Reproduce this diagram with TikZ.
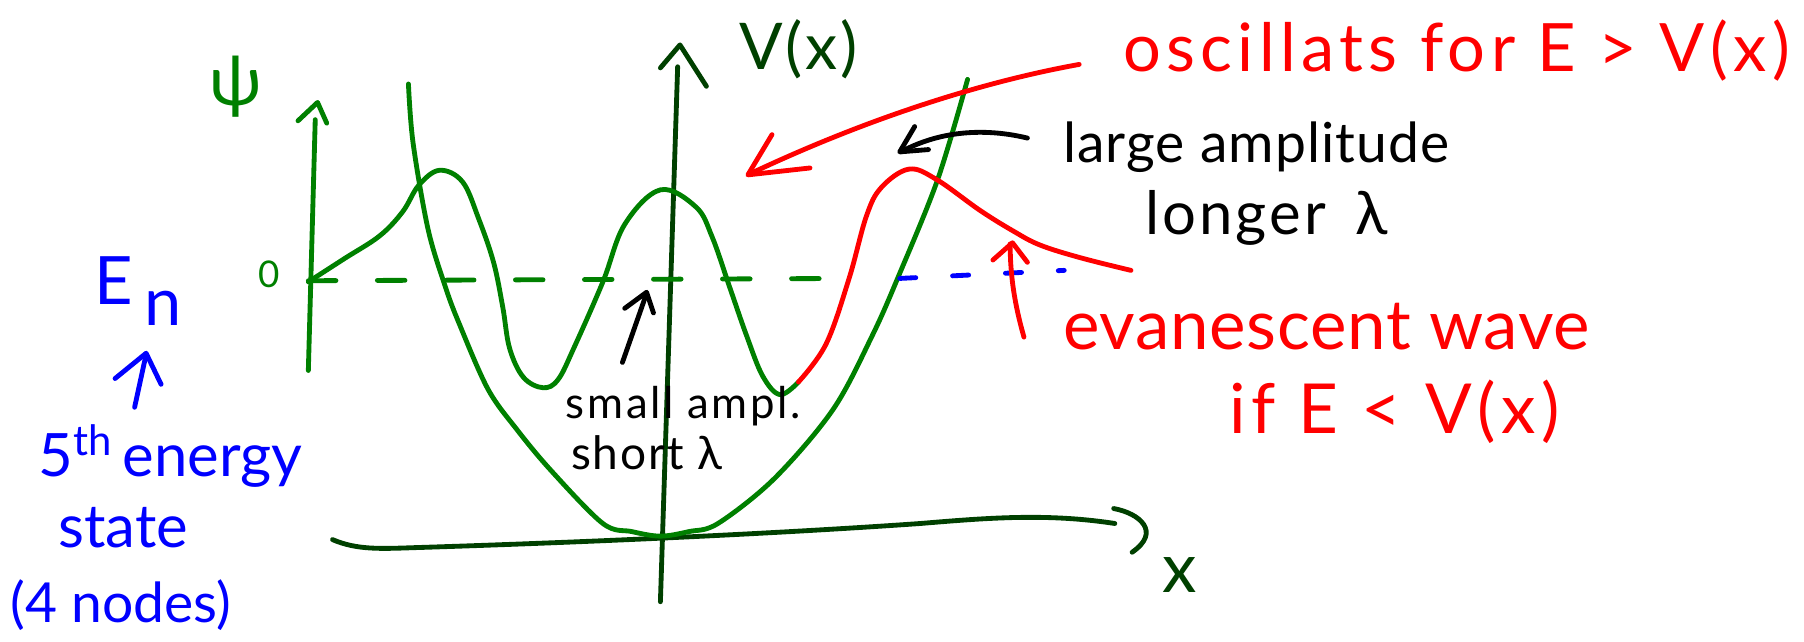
\documentclass[tikz,border=0pt]{standalone}
\usepackage{fontspec}
\setmainfont{Lato}
\usetikzlibrary{arrows.meta}
\definecolor{pgreen}{RGB}{0,128,0}
\definecolor{dgreen}{RGB}{0,64,0}
\newcommand{\fsz}[1]{\fontsize{#1}{#1}\selectfont}
\newcommand{\lsp}[1]{\addfontfeatures{LetterSpace=#1}}
\begin{document}
\begin{tikzpicture}[x=0.5pt,y=-0.5pt,
  pen/.style={line width=2.1pt,line cap=round,line join=round},
  lbl/.style={inner sep=0pt,anchor=base}]
\useasboundingbox (0,0) rectangle (1568,558);

% ---------- psi axis ----------
\coordinate (psib) at (268,322);
\coordinate (psit) at (274,104);
\draw[pen,pgreen] (psib) -- (psit);
\draw[pen,pgreen] (259,105) -- (276,89) -- (284,107);
\node[lbl,pgreen,font=\fsz{30}] (psi) at (205,92) {ψ};
\node[lbl,pgreen,font=\fsz{16}] (zero) at (234,250) {0};

% ---------- V axis ----------
\coordinate (vb) at (574,523);
\coordinate (vt) at (589,58);
\draw[pen,dgreen] (vb) -- (vt);
\draw[pen,dgreen] (574,59) -- (591,39) -- (614,75);
\node[lbl,dgreen,font={\fsz{28}\lsp{4}}] (vx) at (694,60) {V(x)};

% ---------- x axis ----------
\draw[pen,dgreen] (289,469) .. controls (310,478) and (330,477) .. (360,476)
  .. controls (550,470) and (700,462) .. (800,455)
  .. controls (860,450) and (910,446) .. (969,455);
\draw[pen,dgreen] (968,442) .. controls (990,446) and (1010,462) .. (984,480);
\node[lbl,dgreen,font=\fsz{30}] (xl) at (1025,515) {x};

% ---------- potential ----------
\draw[pen,pgreen] plot[smooth,tension=0.55] coordinates {
  (355,73) (359,124) (372,199) (387,249) (399,281) (424,338) (449,373)
  (479,409) (524,455) (549,462) (574,466) (599,462) (624,455) (673,416)
  (724,356) (758,292) (781,240) (815,156) (841,69)};

% ---------- zero line ----------
\draw[pen,pgreen,dash pattern=on 12pt off 18pt] (268,244) -- (740,242);
\draw[pen,blue,dash pattern=on 7pt off 16pt] (782,242) -- (925,235);

% ---------- wavefunction ----------
\draw[pen,pgreen] plot[smooth,tension=0.6] coordinates {
  (268,245) (299,225) (330,205) (350,184) (364,161) (382,148)
  (402,158) (416,190) (429,228) (437,267) (443,303) (455,328) (472,337)
  (485,330) (499,302) (524,245) (543,195) (574,165)
  (605,180) (619,206) (634,249) (649,292) (663,327) (678,343) (694,332)};
\draw[pen,red] plot[smooth,tension=0.6] coordinates {
  (694,332) (718,299) (738,242) (753,188) (766,163) (790,147) (814,156)
  (852,183) (881,201) (904,213) (939,224) (983,235)};

% ---------- red label: oscillates ----------
\node[lbl,red,font={\fsz{29}\lsp{8}}] (osc) at (1266,62) {oscillats for E > V(x)};
\coordinate (osctip) at (652,151);
\draw[pen,red] (938,56) .. controls (860,70) and (760,100) .. (osctip);
\draw[pen,red] (671,117) -- (650,152) -- (704,146);

% ---------- black label: large amplitude ----------
\node[lbl,font={\fsz{24}\lsp{2}}] (large) at (1092,141) {large amplitude};
\node[lbl,font={\fsz{26}\lsp{5}}] (longer) at (1101,204) {longer\hspace{0.5em}λ};
\coordinate (largetip) at (783,132);
\draw[pen] (893,120) .. controls (860,112) and (820,112) .. (largetip);
\draw[pen] (795,110) -- (782,132) -- (807,130);

% ---------- red label: evanescent ----------
\node[lbl,red,font={\fsz{30}\lsp{1}}] (evan) at (1153,304) {evanescent wave};
\node[lbl,red,font={\fsz{30}\lsp{8}}] (ifE) at (1212,377) {if E < V(x)};
\coordinate (evantip) at (878,212);
\draw[pen,red] (890,293) .. controls (882,265) and (878,240) .. (evantip);
\draw[pen,red] (863,226) -- (880,211) -- (893,228);

% ---------- black label: small amplitude ----------
\node[lbl,font={\fsz{19}\lsp{6}}] (small) at (594,364) {small ampl.};
\node[lbl,font={\fsz{20}\lsp{4}}] (short) at (562,408) {short λ};
\coordinate (smalltip) at (562,255);
\draw[pen] (541,315) -- (smalltip);
\draw[pen] (543,268) -- (562,254) -- (568,272);

% ---------- blue labels ----------
\node[lbl,blue,font=\fsz{29},anchor=base west] (En) at (82,265) {E\hspace{5pt}\raisebox{-9pt}{n}};
\coordinate (upb) at (117,354);
\coordinate (upt) at (127,308);
\draw[pen,blue] (upb) -- (upt);
\draw[pen,blue] (100,329) -- (127,307) -- (140,334);
\node[lbl,blue,font=\fsz{26}] (fifth) at (148,414) {5\textsuperscript{th}\,energy};
\node[lbl,blue,font=\fsz{26}] (state) at (107,476) {state};
\node[lbl,blue,font=\fsz{24}] (nodes) at (105,541) {(4 nodes)};
\end{tikzpicture}
\end{document}
